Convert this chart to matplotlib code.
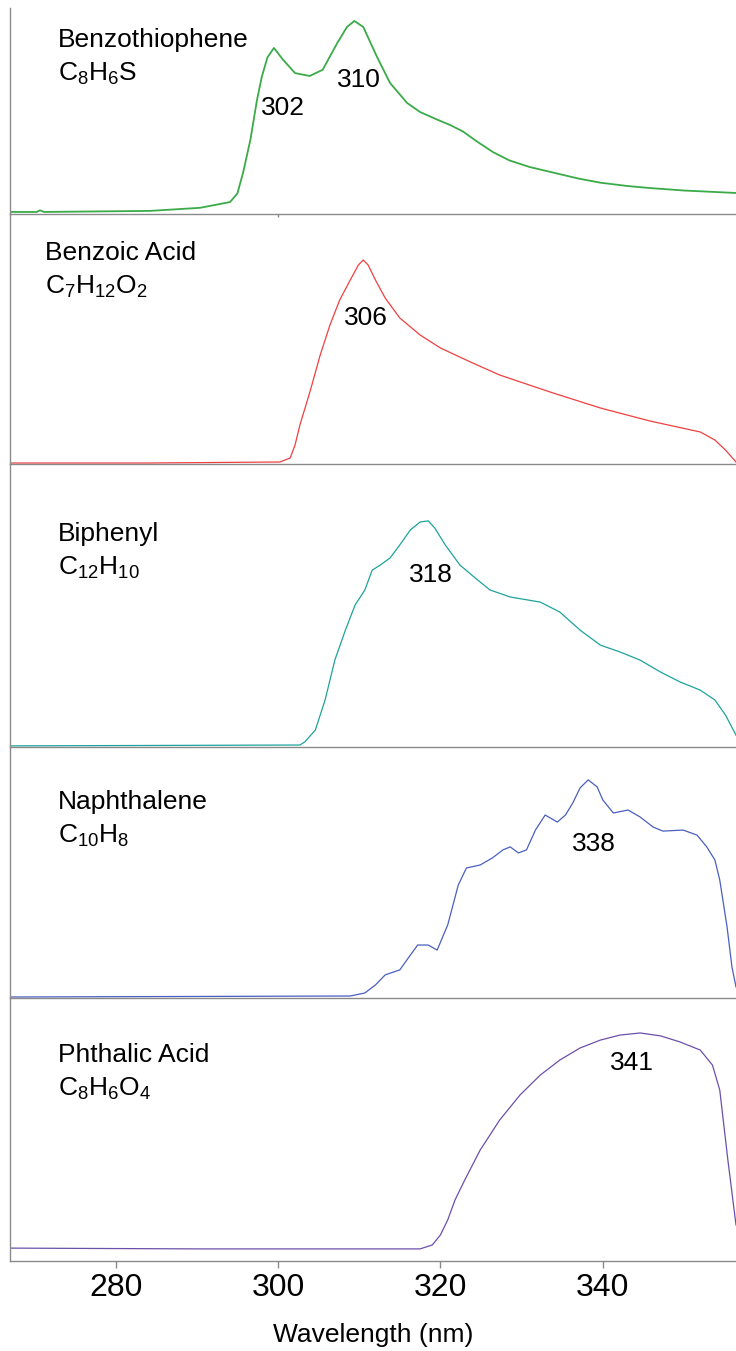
import matplotlib
matplotlib.use('Agg')
import matplotlib.pyplot as plt

plt.rcParams['font.family'] = ['Liberation Sans', 'DejaVu Sans']
plt.rcParams['mathtext.fontset'] = 'custom'
plt.rcParams['mathtext.rm'] = 'Liberation Sans'
plt.rcParams['mathtext.it'] = 'Liberation Sans:italic'

# ---------------- data ----------------
names = ["Benzothiophene", "Benzoic Acid", "Biphenyl", "Naphthalene", "Phthalic Acid"]
formulas = [r"$\mathregular{C_8H_6S}$", r"$\mathregular{C_7H_{12}O_2}$", r"$\mathregular{C_{12}H_{10}}$",
            r"$\mathregular{C_{10}H_8}$", r"$\mathregular{C_8H_6O_4}$"]
peak_labels = [["302", "310"], ["306"], ["318"], ["338"], ["341"]]
colors = ["#3aab48", "#ef4040", "#1ea39c", "#4a5fbe", "#6b50aa"]

xticks = [280, 300, 320, 340]
xlabel = "Wavelength (nm)"

wl_benzothiophene = [267.0, 270.3, 270.7, 271.2, 284.2, 290.4, 294.1, 295.0, 295.7, 296.6, 297.4, 298.0,
                     298.7, 299.5, 300.6, 302.1, 303.9, 305.5, 307.3, 308.5, 309.4, 310.5, 312.2, 313.8,
                     315.9, 317.5, 319.5, 321.2, 322.8, 324.5, 326.5, 328.5, 331.0, 334.0, 337.0, 339.7,
                     343.0, 345.8, 350.0, 356.4]
int_benzothiophene = [0.010, 0.010, 0.018, 0.010, 0.015, 0.030, 0.058, 0.100, 0.200, 0.360, 0.550, 0.665,
                      0.760, 0.806, 0.750, 0.684, 0.670, 0.700, 0.830, 0.908, 0.937, 0.908, 0.762, 0.636,
                      0.539, 0.495, 0.460, 0.432, 0.400, 0.352, 0.300, 0.260, 0.228, 0.200, 0.172, 0.152,
                      0.136, 0.126, 0.114, 0.102]

wl_benzoic = [267.0, 284.2, 300.25, 301.5, 302.1, 302.7, 304.0, 305.2, 306.4, 307.6, 308.9, 309.9, 310.5,
              311.1, 312.0, 313.2, 315.0, 317.5, 320.0, 323.7, 327.3, 333.5, 339.7, 345.8, 352.0, 353.8,
              355.1, 356.4]
int_benzoic = [0.004, 0.004, 0.008, 0.024, 0.076, 0.156, 0.296, 0.436, 0.556, 0.656, 0.736, 0.796, 0.816,
               0.796, 0.736, 0.664, 0.584, 0.516, 0.464, 0.408, 0.356, 0.288, 0.224, 0.172, 0.128, 0.096,
               0.056, 0.008]

wl_biphenyl = [267.0, 302.7, 303.3, 304.6, 305.8, 307.0, 308.3, 309.5, 310.7, 311.6, 312.6, 313.8, 315.0,
               316.3, 317.5, 318.5, 319.3, 320.6, 322.4, 324.3, 326.1, 328.6, 332.3, 334.7, 337.2, 339.7,
               342.1, 344.6, 347.1, 349.5, 352.0, 353.8, 355.1, 356.4]
int_biphenyl = [0.004, 0.007, 0.018, 0.060, 0.166, 0.307, 0.413, 0.502, 0.555, 0.625, 0.643, 0.668, 0.714,
                0.767, 0.795, 0.799, 0.774, 0.714, 0.643, 0.597, 0.555, 0.530, 0.512, 0.477, 0.413, 0.360,
                0.336, 0.307, 0.265, 0.230, 0.201, 0.166, 0.113, 0.042]

wl_naphthalene = [267.0, 308.9, 310.7, 312.0, 313.2, 315.0, 316.3, 317.2, 318.5, 319.6, 320.9, 322.2, 323.2,
                  324.9, 326.4, 327.7, 328.6, 329.6, 330.6, 331.7, 332.9, 334.4, 335.4, 336.3, 337.2, 338.2,
                  339.3, 340.0, 341.3, 343.1, 344.6, 346.2, 347.4, 349.9, 351.6, 352.8, 353.8, 354.4, 355.3,
                  355.9, 356.4]
int_naphthalene = [0.004, 0.008, 0.020, 0.052, 0.092, 0.112, 0.171, 0.211, 0.211, 0.191, 0.291, 0.450, 0.518,
                   0.530, 0.558, 0.590, 0.602, 0.578, 0.590, 0.669, 0.729, 0.701, 0.729, 0.777, 0.837, 0.869,
                   0.841, 0.789, 0.737, 0.749, 0.721, 0.681, 0.665, 0.669, 0.649, 0.602, 0.550, 0.470, 0.283,
                   0.124, 0.044]

wl_phthalic = [267.0, 290.4, 317.5, 319.0, 320.0, 320.9, 321.8, 323.0, 324.9, 327.3, 329.8, 332.3, 334.7,
               337.2, 339.7, 342.1, 344.6, 347.1, 349.5, 352.0, 353.5, 354.4, 355.4, 356.4]
int_phthalic = [0.049, 0.046, 0.046, 0.061, 0.099, 0.156, 0.232, 0.308, 0.422, 0.536, 0.631, 0.707, 0.764,
                0.810, 0.840, 0.859, 0.867, 0.856, 0.833, 0.802, 0.745, 0.650, 0.384, 0.137]

series = [(wl_benzothiophene, int_benzothiophene), (wl_benzoic, int_benzoic), (wl_biphenyl, int_biphenyl),
          (wl_naphthalene, int_naphthalene), (wl_phthalic, int_phthalic)]

# ---------------- layout (pixels) ----------------
W, H = 736, 1351
fig = plt.figure(figsize=(W / 100, H / 100), dpi=100)
panel_px = [(8, 214), (214, 464), (464, 747), (747, 998), (998, 1261)]
ax_left, ax_right = 10, 736
name_pos = [(58, 47), (45, 260), (58, 541), (58, 809), (58, 1062)]
formula_gap = 34
peak_pos = [[(283, 108), (359, 80)], [(366, 318)], [(431, 575)], [(594, 844)], [(632, 1063)]]
lws = [1.3, 0.9, 0.9, 0.9, 0.9]
spine_col = "#8a8a8a"
FS = 19


def fx(px):
    return px / W


def fy(py):
    return 1 - py / H


axes = []
for i, (top, bot) in enumerate(panel_px):
    ax = fig.add_axes([fx(ax_left), fy(bot), (ax_right - ax_left) / W, (bot - top) / H])
    wl, inten = series[i]
    ax.plot(wl, inten, color=colors[i], lw=lws[i], solid_joinstyle='round')
    ax.set_xlim(267, 356.4)
    ax.set_ylim(0, 1)
    ax.set_yticks([])
    for s in ["top", "right"]:
        ax.spines[s].set_visible(False)
    for s in ["left", "bottom"]:
        ax.spines[s].set_color(spine_col)
        ax.spines[s].set_linewidth(1.0)
    ax.patch.set_alpha(0)
    if i == len(panel_px) - 1:
        ax.set_xticks(xticks)
        ax.set_xticklabels([str(t) for t in xticks], fontsize=23,
                           family=['Liberation Sans Narrow', 'Liberation Sans'])
        ax.tick_params(axis='x', length=5, width=1, color=spine_col, pad=4)
        ax.set_xlabel(xlabel, fontsize=FS, labelpad=14)
    elif i == 0:
        ax.set_xticks([300])
        ax.set_xticklabels([])
        ax.tick_params(axis='x', length=2, width=1, color=spine_col)
    else:
        ax.set_xticks([])
    axes.append(ax)

    nx, ny = name_pos[i]
    fig.text(fx(nx), fy(ny), names[i], fontsize=FS, ha='left', va='baseline')
    fig.text(fx(nx), fy(ny + formula_gap), formulas[i], fontsize=FS, ha='left', va='baseline')
    for lab, (px, py) in zip(peak_labels[i], peak_pos[i]):
        fig.text(fx(px), fy(py), lab, fontsize=FS, ha='center', va='center')

fig.savefig("out.png", dpi=100)
